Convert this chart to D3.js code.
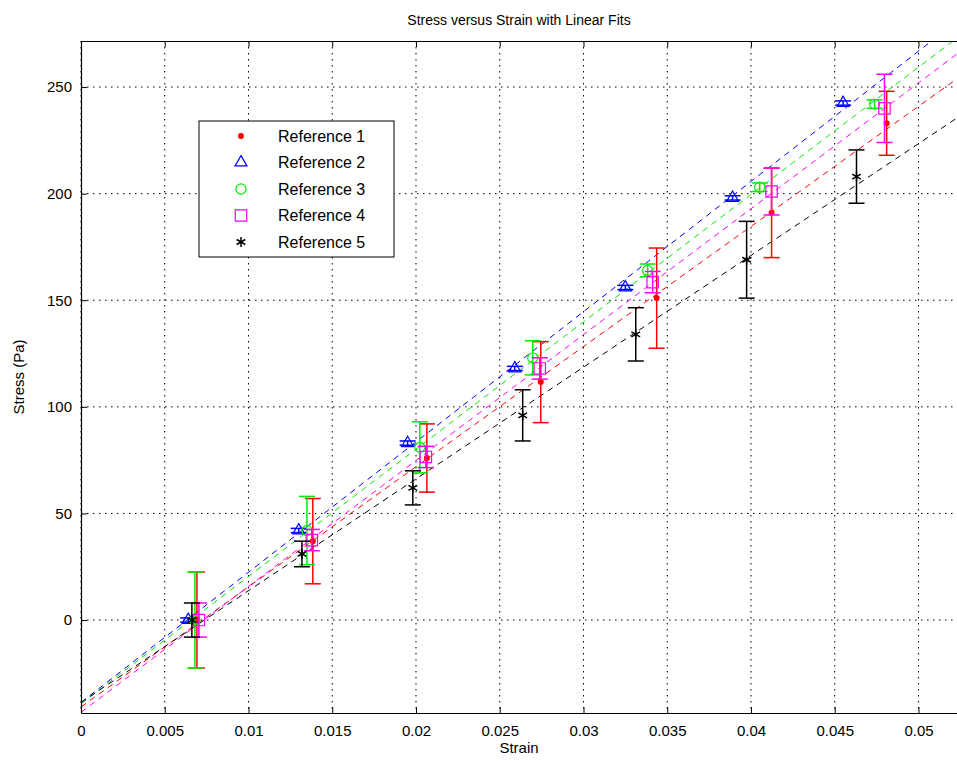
<!DOCTYPE html>
<html lang="en">
<head>
    <meta charset="UTF-8">
    <title>Stress versus Strain with Linear Fits</title>
    <script src="https://d3js.org/d3.v7.min.js"></script>
    <style>
        html,
        body {
            margin: 0;
            height: 100%;
            overflow: hidden;
            background: #fff;
        }
        svg {
            display: block;
        }
        text {
            font-family: "Liberation Sans", Arial, sans-serif;
        }
    </style>
</head>
<body>
    <svg id="svg"></svg>
    <script>
        // data
        const names = ['Reference 1', 'Reference 2', 'Reference 3', 'Reference 4', 'Reference 5'];
        const colors = ['#ff0000', '#0000ff', '#00ee00', '#ff00ff', '#000000'];

        const strain1 = [0.00692, 0.01384, 0.02065, 0.02745, 0.03437, 0.04123, 0.0481];
        const stress1 = [0, 37, 76, 111.6, 151, 191, 233];
        const err1 = [22.5, 20, 16, 19, 23.5, 21, 15];

        const strain2 = [0.0064, 0.0130, 0.0195, 0.0259, 0.0325, 0.0389, 0.0455];
        const stress2 = [0, 42, 83, 118, 156, 198, 242.5];
        const err2 = [1, 1, 1, 1, 1, 1, 1];

        const strain3 = [0.0068, 0.01349, 0.02023, 0.02697, 0.03383, 0.04052, 0.04738];
        const stress3 = [0, 42, 81, 123, 164, 203, 242];
        const err3 = [22.5, 16, 12, 8, 3, 2, 2];

        const strain4 = [0.00704, 0.01378, 0.02059, 0.02739, 0.03413, 0.04123, 0.04797];
        const stress4 = [0, 37.5, 76.5, 118, 158.5, 201, 240];
        const err4 = [8, 5, 5, 5, 5, 11, 16];

        const strain5 = [0.00662, 0.01319, 0.01981, 0.02637, 0.03312, 0.03974, 0.0463];
        const stress5 = [0, 31, 62, 96, 134, 169, 208];
        const err5 = [8, 6, 8, 12, 12.5, 18, 12.5];

        const xTicks = [0, 0.005, 0.01, 0.015, 0.02, 0.025, 0.03, 0.035, 0.04, 0.045, 0.05];
        const yTicks = [0, 50, 100, 150, 200, 250];

        const series = [
            { x: strain1, y: stress1, e: err1, marker: 'dot' },
            { x: strain2, y: stress2, e: err2, marker: 'triangle' },
            { x: strain3, y: stress3, e: err3, marker: 'circle' },
            { x: strain4, y: stress4, e: err4, marker: 'square' },
            { x: strain5, y: stress5, e: err5, marker: 'star' }
        ].map((s, i) => ({ ...s, name: names[i], color: colors[i] }));

        const width = 957, height = 761;
        const svg = d3.select('#svg').attr('width', width).attr('height', height);
        const margin = { top: 41, left: 81, bottom: 48, right: 0 };
        const innerWidth = width - margin.left - margin.right;
        const innerHeight = height - margin.top - margin.bottom;

        const x = d3.scaleLinear().domain([0, 0.0523]).range([0, innerWidth]);
        const y = d3.scaleLinear().domain([-43.6, 271.6]).range([innerHeight, 0]);

        const g = svg.append('g').attr('transform', `translate(${margin.left}, ${margin.top})`);

        svg.append('defs').append('clipPath').attr('id', 'clip')
            .append('rect').attr('width', innerWidth).attr('height', innerHeight);

        // dotted grid
        g.selectAll('.gx').data(xTicks).join('line')
            .attr('x1', d => x(d)).attr('x2', d => x(d))
            .attr('y1', 0).attr('y2', innerHeight)
            .attr('stroke', '#000').attr('stroke-width', 1).attr('stroke-dasharray', '1.5,4.5');
        g.selectAll('.gy').data(yTicks).join('line')
            .attr('x1', 0).attr('x2', innerWidth)
            .attr('y1', d => y(d)).attr('y2', d => y(d))
            .attr('stroke', '#000').attr('stroke-width', 1).attr('stroke-dasharray', '1.5,4.5');

        // least squares fit for each series
        const fit = s => {
            const mx = d3.mean(s.x), my = d3.mean(s.y);
            const sxy = d3.sum(s.x, (v, i) => (v - mx) * (s.y[i] - my));
            const sxx = d3.sum(s.x, v => (v - mx) * (v - mx));
            const m = sxy / sxx;
            return { m, b: my - m * mx };
        };

        const plot = g.append('g').attr('clip-path', 'url(#clip)');

        series.forEach(s => {
            const f = fit(s);
            const ends = x.domain().map(v => [v, f.m * v + f.b]);
            plot.append('path')
                .attr('d', d3.line().x(d => x(d[0])).y(d => y(d[1]))(ends))
                .attr('fill', 'none')
                .attr('stroke', s.color)
                .attr('stroke-width', 1)
                .attr('stroke-dasharray', '6,5');
        });

        const symbolFor = m => {
            if (m === 'triangle') return d3.symbol(d3.symbolTriangle, 62)();
            if (m === 'circle') return d3.symbol(d3.symbolCircle, 80)();
            if (m === 'square') return d3.symbol(d3.symbolSquare, 130)();
            if (m === 'star') return d3.symbol(d3.symbolAsterisk, 70)();
            return d3.symbol(d3.symbolCircle, 18)();
        };

        const drawMarker = (sel, s) => {
            sel.append('path')
                .attr('d', symbolFor(s.marker))
                .attr('fill', s.marker === 'dot' ? s.color : 'none')
                .attr('stroke', s.color)
                .attr('stroke-width', s.marker === 'star' ? 1.5 : 1.2);
        };

        series.forEach(s => {
            const pts = s.x.map((v, i) => ({ x: v, y: s.y[i], e: s.e[i] }));
            const eb = plot.append('g').attr('stroke', s.color).attr('stroke-width', 1.5);
            eb.selectAll('.v').data(pts).join('line')
                .attr('x1', d => x(d.x)).attr('x2', d => x(d.x))
                .attr('y1', d => y(d.y - d.e)).attr('y2', d => y(d.y + d.e));
            eb.selectAll('.t').data(pts).join('line')
                .attr('x1', d => x(d.x) - 8).attr('x2', d => x(d.x) + 8)
                .attr('y1', d => y(d.y + d.e)).attr('y2', d => y(d.y + d.e));
            eb.selectAll('.b').data(pts).join('line')
                .attr('x1', d => x(d.x) - 8).attr('x2', d => x(d.x) + 8)
                .attr('y1', d => y(d.y - d.e)).attr('y2', d => y(d.y - d.e));
            plot.append('g').selectAll('g').data(pts).join('g')
                .attr('transform', d => `translate(${x(d.x)}, ${y(d.y)})`)
                .each(function () { drawMarker(d3.select(this), s); });
        });

        // axes, ticks pointing inward
        const xAxis = g.append('g').attr('transform', `translate(0, ${innerHeight})`)
            .call(d3.axisBottom(x).tickValues(xTicks).tickFormat(d3.format('')).tickSizeInner(-6).tickSizeOuter(0).tickPadding(12));
        const topAxis = g.append('g')
            .call(d3.axisTop(x).tickValues(xTicks).tickSizeInner(-6).tickSizeOuter(0));
        topAxis.selectAll('text').remove();
        const yAxis = g.append('g')
            .call(d3.axisLeft(y).tickValues(yTicks).tickSizeInner(-6).tickSizeOuter(0).tickPadding(9));
        [xAxis, yAxis].forEach(a => {
            a.selectAll('text').attr('font-size', 15).attr('fill', '#000')
                .attr('font-family', '"Liberation Sans", Arial, sans-serif');
        });
        g.selectAll('.domain').attr('stroke', '#000').attr('stroke-width', 1.2);

        // labels
        svg.append('text').attr('x', margin.left + innerWidth / 2).attr('y', 25)
            .attr('text-anchor', 'middle').attr('font-size', 14).text('Stress versus Strain with Linear Fits');
        svg.append('text').attr('x', margin.left + innerWidth / 2).attr('y', 753)
            .attr('text-anchor', 'middle').attr('font-size', 15).text('Strain');
        svg.append('text').attr('transform', `translate(24, ${margin.top + innerHeight / 2}) rotate(-90)`)
            .attr('text-anchor', 'middle').attr('font-size', 15).text('Stress (Pa)');

        // legend
        const legend = svg.append('g').attr('transform', 'translate(199, 121)');
        legend.append('rect').attr('width', 195).attr('height', 136)
            .attr('fill', '#fff').attr('stroke', '#000').attr('stroke-width', 1);
        series.forEach((s, i) => {
            const row = legend.append('g').attr('transform', `translate(0, ${15 + i * 26.5})`);
            drawMarker(row.append('g').attr('transform', 'translate(42, 0)'), s);
            row.append('text').attr('x', 79).attr('y', 0).attr('dy', '0.35em')
                .attr('font-size', 16).text(s.name);
        });
    </script>
</body>
</html>
